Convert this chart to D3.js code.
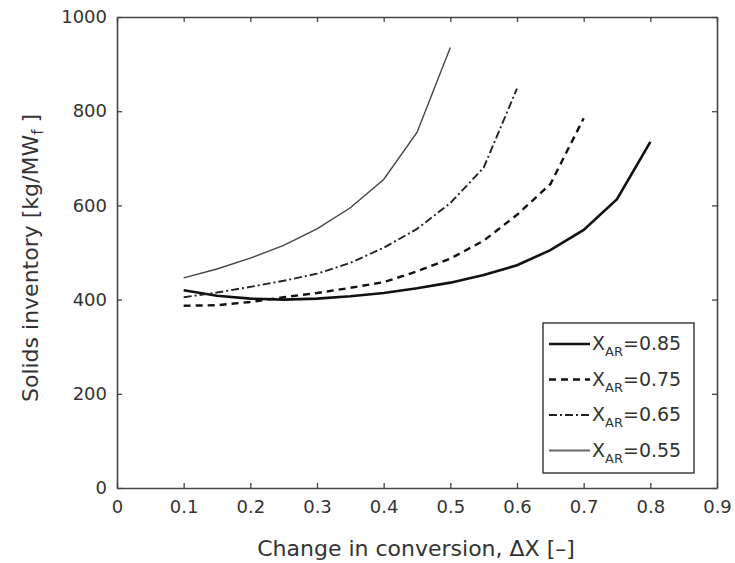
<!DOCTYPE html>
<html>
<head>
<meta charset="utf-8">
<script src="https://cdn.jsdelivr.net/npm/d3@7"></script>
<style>
  body { margin: 0; background: #fff; }
  text { font-family: "DejaVu Sans", "Liberation Sans", sans-serif; fill: #333; }
</style>
</head>
<body>
<svg id="chart" width="735" height="563"></svg>
<script>
// values
const dX85 = [0.1, 0.15, 0.2, 0.25, 0.3, 0.35, 0.4, 0.45, 0.5, 0.55, 0.6, 0.65, 0.7, 0.75, 0.8]
const inv85 = [420, 408, 402, 400, 402, 407, 414, 424, 436, 452, 473, 505, 548, 613, 735]
const dX75 = [0.1, 0.15, 0.2, 0.25, 0.3, 0.35, 0.4, 0.45, 0.5, 0.55, 0.6, 0.65, 0.7]
const inv75 = [387, 388, 395, 405, 414, 425, 437, 460, 487, 525, 580, 645, 785]
const dX65 = [0.1, 0.15, 0.2, 0.25, 0.3, 0.35, 0.4, 0.45, 0.5, 0.55, 0.6]
const inv65 = [405, 415, 427, 440, 455, 478, 510, 550, 605, 680, 848]
const dX55 = [0.1, 0.15, 0.2, 0.25, 0.3, 0.35, 0.4, 0.45, 0.5]
const inv55 = [446, 465, 488, 515, 550, 595, 655, 755, 935]

const xTicks = [0, 0.1, 0.2, 0.3, 0.4, 0.5, 0.6, 0.7, 0.8, 0.9]
const yTicks = [0, 200, 400, 600, 800, 1000]
const labels = ['0.85', '0.75', '0.65', '0.55']

const series = [
    { x: dX85, y: inv85, color: '#111', width: 2.6, dash: null },
    { x: dX75, y: inv75, color: '#111', width: 2.4, dash: '7,5' },
    { x: dX65, y: inv65, color: '#222', width: 1.9, dash: '8,3,2,3' },
    { x: dX55, y: inv55, color: '#444', width: 1.4, dash: null }
]

const margin = { left: 117, right: 18, top: 17, bottom: 75 }
const W = 735, H = 563
const svg = d3.select('#chart')

const x = d3.scaleLinear().domain([0, 0.9]).range([margin.left, W - margin.right])
const y = d3.scaleLinear().domain([0, 1000]).range([H - margin.bottom, margin.top])

const g = svg.append('g')
const tickLen = 5

// axes with inward ticks, boxed like matlab
g.append('g').attr('transform', `translate(0,${y(0)})`)
    .call(d3.axisBottom(x).tickValues(xTicks).tickSizeInner(-tickLen).tickSizeOuter(0).tickPadding(12).tickFormat(d => d))
g.append('g').attr('transform', `translate(0,${y(1000)})`)
    .call(d3.axisTop(x).tickValues(xTicks).tickSizeInner(-tickLen).tickSizeOuter(0).tickFormat(''))
g.append('g').attr('transform', `translate(${x(0)},0)`)
    .call(d3.axisLeft(y).tickValues(yTicks).tickSizeInner(-tickLen).tickSizeOuter(0).tickPadding(10).tickFormat(d => d))
g.append('g').attr('transform', `translate(${x(0.9)},0)`)
    .call(d3.axisRight(y).tickValues(yTicks).tickSizeInner(-tickLen).tickSizeOuter(0).tickFormat(''))

g.selectAll('.domain').style('stroke', '#444').style('stroke-width', 1.6)
g.selectAll('.tick line').style('stroke', '#444').style('stroke-width', 1.3)
g.selectAll('.tick text').style('font-size', '18px').style('fill', '#333')
    .style('font-family', '"DejaVu Sans", sans-serif')

// curves
const line = d3.line().x(d => x(d[0])).y(d => y(d[1]))
series.forEach(s => {
    g.append('path')
        .datum(d3.zip(s.x, s.y))
        .attr('d', line)
        .style('fill', 'none')
        .style('stroke', s.color)
        .style('stroke-width', s.width)
        .style('stroke-dasharray', s.dash)
})

// axis titles
svg.append('text').attr('x', 416).attr('y', 556).attr('text-anchor', 'middle')
    .style('font-size', '22px').text('Change in conversion, ΔX [–]')

const yl = svg.append('text').attr('transform', 'translate(38,258) rotate(-90)')
    .attr('text-anchor', 'middle').style('font-size', '22px')
yl.append('tspan').text('Solids inventory [kg/MW')
yl.append('tspan').attr('dy', 5).style('font-size', '15px').text('f')
yl.append('tspan').attr('dy', -5).text(' ]')

// legend
const lg = svg.append('g')
lg.append('rect').attr('x', 543).attr('y', 323).attr('width', 151).attr('height', 150)
    .style('fill', '#fff').style('stroke', '#333').style('stroke-width', 1.4)
series.forEach((s, i) => {
    const ly = 344 + i * 35.5
    lg.append('line').attr('x1', 549).attr('x2', 590).attr('y1', ly).attr('y2', ly)
        .style('stroke', i == 3 ? '#666' : s.color).style('stroke-width', i == 3 ? 2 : s.width)
        .style('stroke-dasharray', s.dash)
    const t = lg.append('text').attr('x', 592).attr('y', ly + 6).style('font-size', '19px')
    t.append('tspan').text('X')
    t.append('tspan').attr('dy', 6).style('font-size', '13px').text('AR')
    t.append('tspan').attr('dy', -6).text('=' + labels[i])
})
</script>
</body>
</html>
